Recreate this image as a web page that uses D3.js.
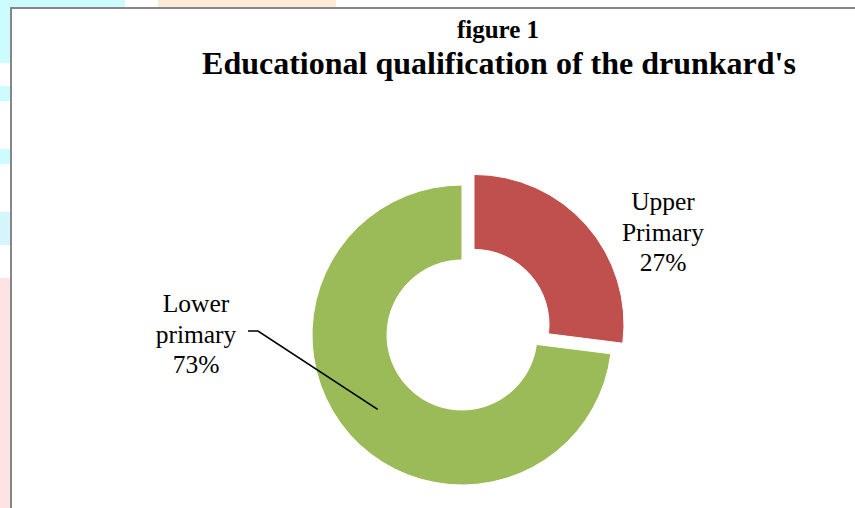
<!DOCTYPE html>
<html>
<head>
<meta charset="utf-8">
<script src="https://cdn.jsdelivr.net/npm/d3@7"></script>
<style>
  body { margin: 0; background: #fff; }
  svg { display: block; }
  text { font-family: "Liberation Serif", "Times New Roman", serif; fill: #000; }
</style>
</head>
<body>
<div id="chart"></div>
<script>
// data
var categories = ["Upper Primary", "Lower primary"];
var labelLines = [["Upper", "Primary", "27%"], ["Lower", "primary", "73%"]];
var values = [27, 73];
var colors = ["#C0504D", "#9BBB59"];

var width = 855,
    height = 508;

var svg = d3.select("#chart")
    .append("svg")
    .attr("width", width)
    .attr("height", height);

// faint page background pieces behind the chart box
var bgPieces = [
    {x: 0, y: 0, w: 125, h: 63, c: "#ccfcff"},
    {x: 158, y: 0, w: 178, h: 8, c: "#fdebd8"},
    {x: 0, y: 86, w: 11, h: 15, c: "#ccfcff"},
    {x: 0, y: 149, w: 11, h: 15, c: "#ccfcff"},
    {x: 0, y: 212, w: 11, h: 33, c: "#d4f5fc"},
    {x: 0, y: 278, w: 11, h: 230, c: "#fde3e3"}
];
svg.selectAll("rect.bg")
    .data(bgPieces)
    .enter()
    .append("rect")
    .attr("class", "bg")
    .attr("x", d => d.x)
    .attr("y", d => d.y)
    .attr("width", d => d.w)
    .attr("height", d => d.h)
    .style("fill", d => d.c);

// chart box
svg.append("rect")
    .attr("x", 11)
    .attr("y", 8)
    .attr("width", width)
    .attr("height", height)
    .style("fill", "#fff")
    .style("stroke", "#868686")
    .style("stroke-width", 2);

// titles
svg.append("text")
    .attr("x", 498)
    .attr("y", 38)
    .attr("text-anchor", "middle")
    .style("font-weight", "bold")
    .style("font-size", "25px")
    .text("figure 1");

svg.append("text")
    .attr("x", 499)
    .attr("y", 74)
    .attr("text-anchor", "middle")
    .style("font-weight", "bold")
    .style("font-size", "32px")
    .text("Educational qualification of the drunkard's");

// donut
var cx = 462, cy = 335;
var outerR = 150, innerR = 75;
var explode = [16, 0];

var pie = d3.pie().sort(null).value(d => d);
var arcs = pie(values);

var arc = d3.arc().innerRadius(innerR).outerRadius(outerR);
var midArc = d3.arc().innerRadius((innerR + outerR) / 2).outerRadius((innerR + outerR) / 2);

var g = svg.append("g")
    .attr("transform", "translate(" + cx + "," + cy + ")");

g.selectAll("path")
    .data(arcs)
    .enter()
    .append("path")
    .attr("d", arc)
    .attr("transform", function(d, i) {
        var a = (d.startAngle + d.endAngle) / 2;
        return "translate(" + (Math.sin(a) * explode[i]) + "," + (-Math.cos(a) * explode[i]) + ")";
    })
    .style("fill", (d, i) => colors[i])
    .style("stroke", "#fff")
    .style("stroke-width", 1);

// labels, offsets from the donut centre
var labelPos = [[201, -125], [-266, -23]];
var lineGap = 30.5;

labelLines.forEach(function(lines, i) {
    var t = g.append("text")
        .attr("text-anchor", "middle")
        .style("font-size", "25.5px");
    lines.forEach(function(s, j) {
        t.append("tspan")
            .attr("x", labelPos[i][0])
            .attr("y", labelPos[i][1] + j * lineGap)
            .text(s);
    });
});

// leader line for the lower primary slice
var c = midArc.centroid(arcs[1]);
var lineStart = [-214, -4];
g.append("path")
    .attr("d", d3.line()([lineStart, [lineStart[0] + 10, lineStart[1]], c]))
    .style("fill", "none")
    .style("stroke", "#000")
    .style("stroke-width", 1.7);
</script>
</body>
</html>
